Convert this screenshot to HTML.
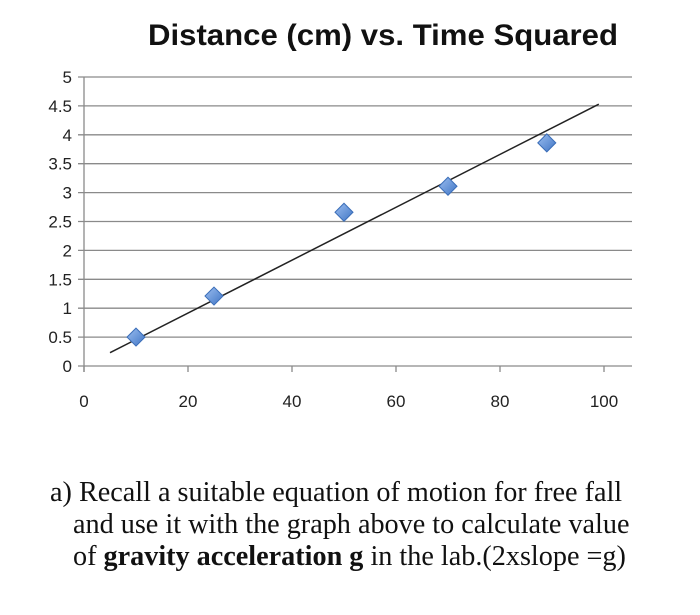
<!DOCTYPE html>
<html><head><meta charset="utf-8"><style>
body{margin:0;background:#fff;width:700px;height:615px;overflow:hidden}
.q{position:absolute;left:50px;font-family:"Liberation Serif",serif;font-size:28.2px;color:#111;white-space:nowrap}
</style></head><body>
<svg id="chart" width="700" height="460" style="position:absolute;left:0;top:0" font-family="Liberation Sans, sans-serif">
<text x="383" y="45" text-anchor="middle" font-size="30" font-weight="bold" fill="#111" textLength="470" lengthAdjust="spacingAndGlyphs">Distance (cm) vs. Time Squared</text>
<g id="grid"></g><g id="axes"></g><g id="trend"></g><g id="pts"></g>
<defs><linearGradient id="dg" x1="0" y1="0" x2="1" y2="1"><stop offset="0" stop-color="#9cbff0"/><stop offset="1" stop-color="#3f74c4"/></linearGradient></defs>
</svg>
<div class="q" style="top:477px">a) Recall a suitable equation of motion for free fall</div>
<div class="q" style="top:509px;left:73px">and use it with the graph above to calculate value</div>
<div class="q" style="top:541px;left:73px">of <b>gravity acceleration g</b> in the lab.(2xslope =g)</div>
<script>
const xVals=[10,25,50,70,89];
const yVals=[0.5,1.21,2.66,3.11,3.86];
const trendX=[5,99];
const trendY=[0.23,4.53];
const xTicks=[0,20,40,60,80,100];
const yTicks=[0,0.5,1,1.5,2,2.5,3,3.5,4,4.5,5];
const NS="http://www.w3.org/2000/svg";
const X0=84,XS=5.2,Y0=366,YS=57.8,XR=632;
const sx=v=>X0+v*XS, sy=v=>Y0-v*YS;
function mk(t,a,p){const e=document.createElementNS(NS,t);for(const k in a)e.setAttribute(k,a[k]);document.getElementById(p).appendChild(e);return e;}
yTicks.forEach(t=>{
 const l=mk('line',{x1:X0-6,x2:XR,y1:sy(t),y2:sy(t),stroke:'#8a8a8a','stroke-width':1.3},'grid');
 
 
 const tx=mk('text',{x:X0-12,y:sy(t)+6,'text-anchor':'end','font-size':17,fill:'#222'},'axes');
 tx.textContent=t;
 
 
});
const ya=mk('line',{x1:X0,x2:X0,y1:sy(5),y2:Y0+6,stroke:'#8a8a8a','stroke-width':1.3},'axes');


xTicks.forEach(t=>{
 const k=mk('line',{x1:sx(t),x2:sx(t),y1:Y0,y2:Y0+6,stroke:'#8a8a8a','stroke-width':1.3},'axes');
 
 
 const tx=mk('text',{x:sx(t),y:Y0+41,'text-anchor':'middle','font-size':17,fill:'#222'},'axes');
 tx.textContent=t;
 
 
});
const tl=mk('line',{x1:sx(trendX[0]),y1:sy(trendY[0]),x2:sx(trendX[1]),y2:sy(trendY[1]),stroke:'#222','stroke-width':1.5},'trend');


xVals.forEach((x,i)=>{
 const cx=sx(x),cy=sy(yVals[i]),r=9;
 const p=mk('polygon',{points:`${cx},${cy-r} ${cx+r},${cy} ${cx},${cy+r} ${cx-r},${cy}`,fill:'url(#dg)',stroke:'#3a6db8','stroke-width':1},'pts');
 
 
});
</script>
</body></html>
